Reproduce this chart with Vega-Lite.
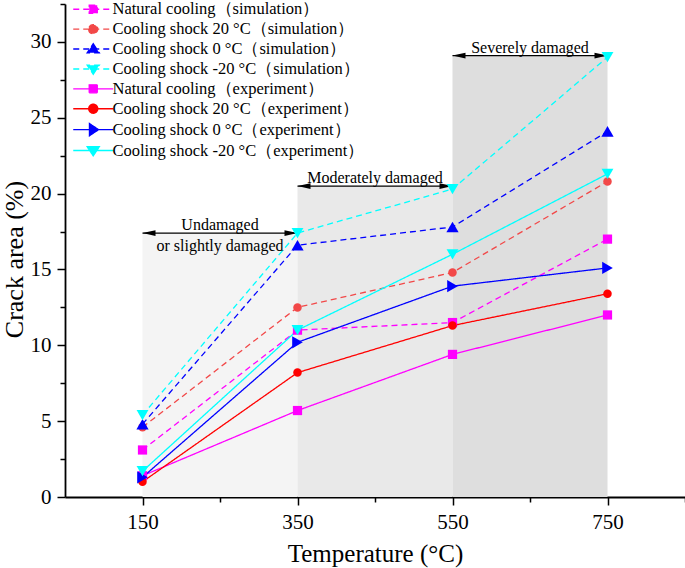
{
  "$schema": "https://vega.github.io/schema/vega-lite/v6.json",
  "width": 620,
  "height": 493,
  "autosize": {"type": "none"},
  "padding": {"left": 65, "top": 4, "right": 0, "bottom": 71},
  "background": "white",
  "config": {
    "view": {"stroke": null},
    "font": "Liberation Serif",
    "axis": {"labelFont": "Liberation Serif", "titleFont": "Liberation Serif", "labelColor": "black", "titleColor": "black", "domainColor": "black", "tickColor": "black", "grid": false, "titleFontWeight": "normal", "labelFlush": false, "labelOverlap": false},
    "legend": {"padding": 0, "symbolSize": 100, "symbolStrokeWidth": 1.4, "labelFont": "Liberation Serif", "labelFontSize": 16.5, "labelColor": "black", "labelOffset": 11, "rowPadding": 2.9, "labelLimit": 0}
  },
  "datasets": {
    "curves": [
      {"series": "Natural cooling（simulation）", "t": 150, "area": 3.1},
      {"series": "Natural cooling（simulation）", "t": 350, "area": 11.0},
      {"series": "Natural cooling（simulation）", "t": 550, "area": 11.5},
      {"series": "Natural cooling（simulation）", "t": 750, "area": 17.0},
      {"series": "Cooling shock 20 °C（simulation）", "t": 150, "area": 4.6},
      {"series": "Cooling shock 20 °C（simulation）", "t": 350, "area": 12.5},
      {"series": "Cooling shock 20 °C（simulation）", "t": 550, "area": 14.8},
      {"series": "Cooling shock 20 °C（simulation）", "t": 750, "area": 20.8},
      {"series": "Cooling shock 0 °C（simulation）", "t": 150, "area": 4.8},
      {"series": "Cooling shock 0 °C（simulation）", "t": 350, "area": 16.6},
      {"series": "Cooling shock 0 °C（simulation）", "t": 550, "area": 17.8},
      {"series": "Cooling shock 0 °C（simulation）", "t": 750, "area": 24.1},
      {"series": "Cooling shock -20 °C（simulation）", "t": 150, "area": 5.4},
      {"series": "Cooling shock -20 °C（simulation）", "t": 350, "area": 17.4},
      {"series": "Cooling shock -20 °C（simulation）", "t": 550, "area": 20.3},
      {"series": "Cooling shock -20 °C（simulation）", "t": 750, "area": 29.0},
      {"series": "Natural cooling（experiment）", "t": 150, "area": 1.4},
      {"series": "Natural cooling（experiment）", "t": 350, "area": 5.7},
      {"series": "Natural cooling（experiment）", "t": 550, "area": 9.4},
      {"series": "Natural cooling（experiment）", "t": 750, "area": 12.0},
      {"series": "Cooling shock 20 °C（experiment）", "t": 150, "area": 1.0},
      {"series": "Cooling shock 20 °C（experiment）", "t": 350, "area": 8.2},
      {"series": "Cooling shock 20 °C（experiment）", "t": 550, "area": 11.3},
      {"series": "Cooling shock 20 °C（experiment）", "t": 750, "area": 13.4},
      {"series": "Cooling shock 0 °C（experiment）", "t": 150, "area": 1.3},
      {"series": "Cooling shock 0 °C（experiment）", "t": 350, "area": 10.2},
      {"series": "Cooling shock 0 °C（experiment）", "t": 550, "area": 13.9},
      {"series": "Cooling shock 0 °C（experiment）", "t": 750, "area": 15.1},
      {"series": "Cooling shock -20 °C（experiment）", "t": 150, "area": 1.7},
      {"series": "Cooling shock -20 °C（experiment）", "t": 350, "area": 11.0},
      {"series": "Cooling shock -20 °C（experiment）", "t": 550, "area": 16.0},
      {"series": "Cooling shock -20 °C（experiment）", "t": 750, "area": 21.3}
    ],
    "zones": [
      {"zone": "Undamaged\nor slightly damaged", "start": 150, "end": 350, "mid": 250, "top": 17.4},
      {"zone": "Moderately damaged", "start": 350, "end": 550, "mid": 450, "top": 20.5},
      {"zone": "Severely damaged", "start": 550, "end": 750, "mid": 650, "top": 29.1}
    ]
  },
  "resolve": {"axis": {"x": "independent", "y": "independent"}},
  "layer": [
    {
      "data": {"name": "zones"},
      "mark": {"type": "rect"},
      "encoding": {
        "x": {"field": "start", "type": "quantitative", "scale": {"domain": [50, 850], "nice": false, "zero": false},
          "axis": {"orient": "bottom", "values": [150, 350, 550, 750], "tickSize": 8, "tickWidth": 1.5, "domainWidth": 1.8, "labelFontSize": 21, "labelPadding": 6, "title": "Temperature (°C)", "titleFontSize": 25, "titleX": 310, "titleY": 64, "titleBaseline": "alphabetic", "titleAlign": "center"}},
        "x2": {"field": "end"},
        "y": {"field": "top", "type": "quantitative", "scale": {"domain": [0, 32.5], "nice": false, "zero": true},
          "axis": {"orient": "left", "values": [0, 5, 10, 15, 20, 25, 30], "tickSize": 8, "tickWidth": 1.5, "domainWidth": 1.8, "labelFontSize": 21, "labelPadding": 6, "title": "Crack area (%)", "titleFontSize": 26, "titleX": -43, "titleY": 255, "titleAngle": -90, "titleBaseline": "alphabetic", "titleAlign": "center"}},
        "y2": {"datum": 0},
        "color": {"field": "zone", "type": "nominal", "scale": {"domain": ["Undamaged\nor slightly damaged", "Moderately damaged", "Severely damaged"], "range": ["#f4f4f4", "#e9e9e9", "#dedede"]}, "legend": null}
      }
    },
    {
      "data": {"name": "zones"},
      "mark": {"type": "rule", "color": "black", "strokeWidth": 1.3},
      "encoding": {
        "x": {"field": "start", "type": "quantitative", "axis": null},
        "x2": {"field": "end"},
        "y": {"field": "top", "type": "quantitative", "axis": null}
      }
    },
    {
      "data": {"name": "zones"},
      "mark": {"type": "point", "shape": "M0,0L1,-0.22L1,0.22Z", "size": 676, "filled": true, "color": "black", "opacity": 1, "strokeWidth": 0},
      "encoding": {
        "x": {"field": "start", "type": "quantitative", "axis": null},
        "y": {"field": "top", "type": "quantitative", "axis": null}
      }
    },
    {
      "data": {"name": "zones"},
      "mark": {"type": "point", "shape": "M0,0L-1,-0.22L-1,0.22Z", "size": 676, "filled": true, "color": "black", "opacity": 1, "strokeWidth": 0},
      "encoding": {
        "x": {"field": "end", "type": "quantitative", "axis": null},
        "y": {"field": "top", "type": "quantitative", "axis": null}
      }
    },
    {
      "data": {"name": "zones"},
      "mark": {"type": "text", "font": "Liberation Serif", "fontSize": 16, "color": "black", "align": "center", "baseline": "bottom", "lineBreak": "\n", "lineHeight": 21},
      "encoding": {
        "x": {"field": "mid", "type": "quantitative", "axis": null},
        "y": {"field": "top", "type": "quantitative", "axis": null},
        "text": {"field": "zone"}
      }
    },
    {
      "data": {"name": "curves"},
      "mark": {"type": "line", "strokeWidth": 1.3},
      "encoding": {
        "x": {"field": "t", "type": "quantitative", "axis": null},
        "y": {"field": "area", "type": "quantitative", "axis": null},
        "stroke": {"field": "series", "type": "nominal",
          "scale": {"domain": ["Natural cooling（simulation）", "Cooling shock 20 °C（simulation）", "Cooling shock 0 °C（simulation）", "Cooling shock -20 °C（simulation）", "Natural cooling（experiment）", "Cooling shock 20 °C（experiment）", "Cooling shock 0 °C（experiment）", "Cooling shock -20 °C（experiment）"],
            "range": ["#ff00ff", "#f24848", "#0000ff", "#00ffff", "#ff00ff", "#ff0000", "#0000ff", "#00ffff"]},
          "legend": {"title": null, "orient": "none", "legendX": 20, "legendY": -3}},
        "strokeDash": {"field": "series", "type": "nominal",
          "scale": {"domain": ["Natural cooling（simulation）", "Cooling shock 20 °C（simulation）", "Cooling shock 0 °C（simulation）", "Cooling shock -20 °C（simulation）", "Natural cooling（experiment）", "Cooling shock 20 °C（experiment）", "Cooling shock 0 °C（experiment）", "Cooling shock -20 °C（experiment）"],
            "range": [[6, 4], [6, 4], [6, 4], [6, 4], [1, 0], [1, 0], [1, 0], [1, 0]]},
          "legend": {"title": null, "orient": "none", "legendX": 20, "legendY": -3}}
      }
    },
    {
      "data": {"name": "curves"},
      "transform": [{"filter": {"field": "series", "oneOf": ["Natural cooling（simulation）", "Natural cooling（experiment）"]}}],
      "mark": {"type": "point", "shape": "square", "size": 85, "filled": true, "opacity": 1, "strokeWidth": 0},
      "encoding": {
        "x": {"field": "t", "type": "quantitative", "axis": null},
        "y": {"field": "area", "type": "quantitative", "axis": null},
        "fill": {"field": "series", "type": "nominal",
          "scale": {"domain": ["Natural cooling（simulation）", "Cooling shock 20 °C（simulation）", "Cooling shock 0 °C（simulation）", "Cooling shock -20 °C（simulation）", "Natural cooling（experiment）", "Cooling shock 20 °C（experiment）", "Cooling shock 0 °C（experiment）", "Cooling shock -20 °C（experiment）"],
            "range": ["#ff00ff", "#f24848", "#0000ff", "#00ffff", "#ff00ff", "#ff0000", "#0000ff", "#00ffff"]},
          "legend": {"title": null, "orient": "none", "legendX": 20, "legendY": -3}}
      }
    },
    {
      "data": {"name": "curves"},
      "transform": [{"filter": {"field": "series", "oneOf": ["Cooling shock 20 °C（simulation）", "Cooling shock 20 °C（experiment）"]}}],
      "mark": {"type": "point", "shape": "circle", "size": 72, "filled": true, "opacity": 1, "strokeWidth": 0},
      "encoding": {
        "x": {"field": "t", "type": "quantitative", "axis": null},
        "y": {"field": "area", "type": "quantitative", "axis": null},
        "fill": {"field": "series", "type": "nominal"}
      }
    },
    {
      "data": {"name": "curves"},
      "transform": [{"filter": {"field": "series", "equal": "Cooling shock 0 °C（simulation）"}}],
      "mark": {"type": "point", "shape": "triangle-up", "size": 150, "filled": true, "opacity": 1, "strokeWidth": 0},
      "encoding": {
        "x": {"field": "t", "type": "quantitative", "axis": null},
        "y": {"field": "area", "type": "quantitative", "axis": null},
        "fill": {"field": "series", "type": "nominal"}
      }
    },
    {
      "data": {"name": "curves"},
      "transform": [{"filter": {"field": "series", "equal": "Cooling shock 0 °C（experiment）"}}],
      "mark": {"type": "point", "shape": "triangle-right", "size": 150, "filled": true, "opacity": 1, "strokeWidth": 0},
      "encoding": {
        "x": {"field": "t", "type": "quantitative", "axis": null},
        "y": {"field": "area", "type": "quantitative", "axis": null},
        "fill": {"field": "series", "type": "nominal"}
      }
    },
    {
      "data": {"name": "curves"},
      "transform": [{"filter": {"field": "series", "oneOf": ["Cooling shock -20 °C（simulation）", "Cooling shock -20 °C（experiment）"]}}],
      "mark": {"type": "point", "shape": "triangle-down", "size": 140, "filled": true, "opacity": 1, "strokeWidth": 0},
      "encoding": {
        "x": {"field": "t", "type": "quantitative", "axis": null},
        "y": {"field": "area", "type": "quantitative", "axis": null},
        "fill": {"field": "series", "type": "nominal"}
      }
    },
    {
      "data": {"name": "curves"},
      "transform": [{"filter": "false"}],
      "mark": {"type": "point", "filled": true, "opacity": 1},
      "encoding": {
        "x": {"field": "t", "type": "quantitative",
          "axis": {"orient": "bottom", "values": [250, 450, 650, 850], "labels": false, "domain": false, "tickSize": 5, "tickWidth": 1.5, "title": null}},
        "y": {"field": "area", "type": "quantitative",
          "axis": {"orient": "left", "values": [2.5, 7.5, 12.5, 17.5, 22.5, 27.5, 32.5], "labels": false, "domain": false, "tickSize": 5, "tickWidth": 1.5, "title": null}},
        "shape": {"field": "series", "type": "nominal",
          "scale": {"domain": ["Natural cooling（simulation）", "Cooling shock 20 °C（simulation）", "Cooling shock 0 °C（simulation）", "Cooling shock -20 °C（simulation）", "Natural cooling（experiment）", "Cooling shock 20 °C（experiment）", "Cooling shock 0 °C（experiment）", "Cooling shock -20 °C（experiment）"],
            "range": [
              "M-4,0L4,0M-0.8,-0.8L0.8,-0.8L0.8,0.8L-0.8,0.8Z",
              "M-4,0L4,0M-0.9,0A0.9,0.9,0,1,0,0.9,0A0.9,0.9,0,1,0,-0.9,0Z",
              "M-4,0L4,0M0,-1.05L1.2,0.75L-1.2,0.75Z",
              "M-4,0L4,0M0,1.05L1.2,-0.75L-1.2,-0.75Z",
              "M-4,0L4,0M-0.8,-0.8L0.8,-0.8L0.8,0.8L-0.8,0.8Z",
              "M-4,0L4,0M-0.9,0A0.9,0.9,0,1,0,0.9,0A0.9,0.9,0,1,0,-0.9,0Z",
              "M-4,0L4,0M1.05,0L-0.75,-1.2L-0.75,1.2Z",
              "M-4,0L4,0M0,1.05L1.2,-0.75L-1.2,-0.75Z"
            ]},
          "legend": {"title": null, "orient": "none", "legendX": 20, "legendY": -3}}
      }
    }
  ]
}
